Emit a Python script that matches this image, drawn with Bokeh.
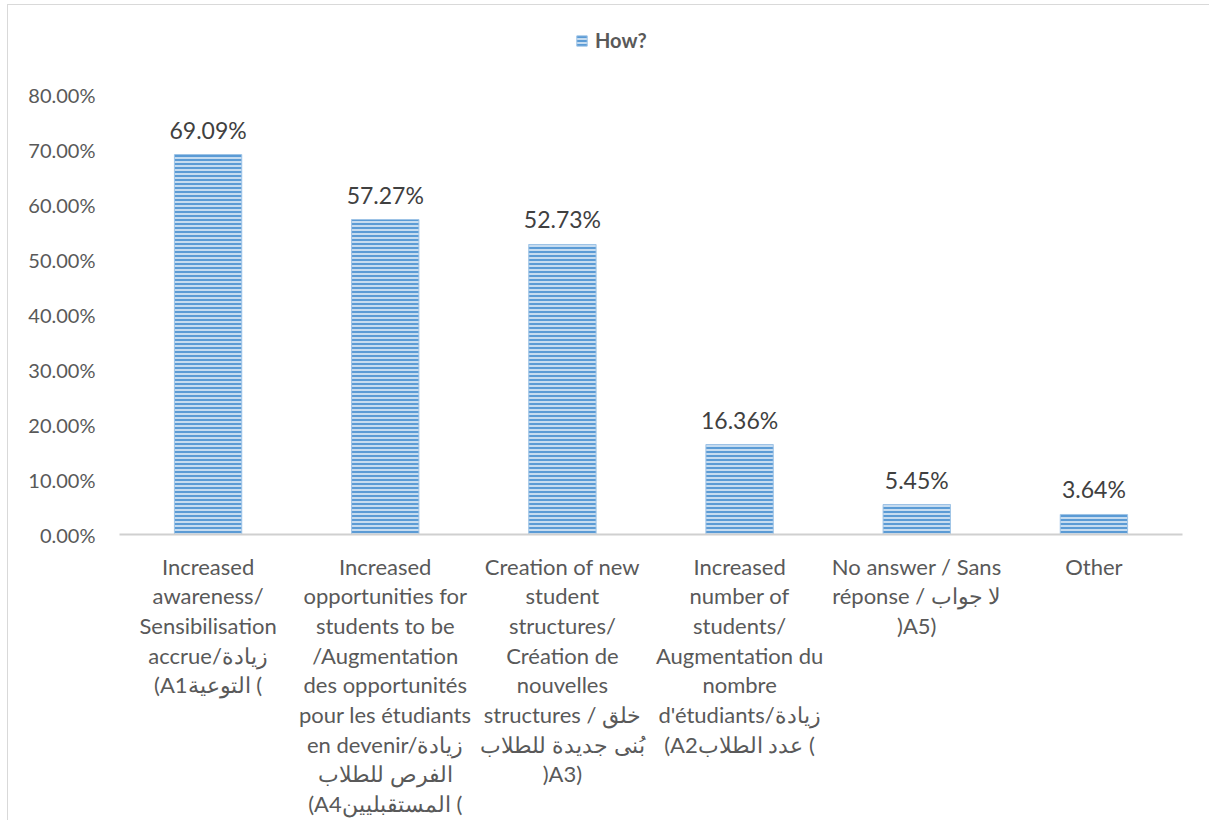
from bokeh.plotting import figure
from bokeh.models import (FactorRange, Range1d, PrintfTickFormatter, FixedTicker,
                          Legend, LegendItem, ColumnDataSource)
from bokeh.core.properties import value
from bokeh.embed import file_html
from bokeh.resources import INLINE

categories = [
    "Increased\nawareness/\nSensibilisation\naccrue/زيادة\n(A1التوعية (",
    "Increased\nopportunities for\nstudents to be\n/Augmentation\ndes opportunités\npour les étudiants\nen devenir/زيادة\nالفرص للطلاب\n(A4المستقبليين (",
    "Creation of new\nstudent\nstructures/\nCréation de\nnouvelles\nstructures / خلق\nبُنى جديدة للطلاب\n)A3)",
    "Increased\nnumber of\nstudents/\nAugmentation du\nnombre\nd'étudiants/زيادة\n(A2عدد الطلاب (",
    "No answer / Sans\nréponse / لا جواب\n)A5)",
    "Other",
]
values = [69.09, 57.27, 52.73, 16.36, 5.45, 3.64]
series_name = "How?"
y_ticks = [0, 10, 20, 30, 40, 50, 60, 70, 80]

FONT = "Lato"
GREY = "#595959"

src = ColumnDataSource(dict(cat=categories, val=values,
                            lab=[f"{v:.2f}%" for v in values]))

# frame spans 0..80 over 440px; extended upward so the legend sits inside it
p = figure(x_range=FactorRange(*categories), y_range=Range1d(0, 80 + 71 / 5.5),
           frame_width=1063, frame_height=511, output_backend="svg",
           toolbar_location=None,
           min_border_left=111, min_border_right=27, min_border_top=18,
           min_border_bottom=0)
p.styles = {"margin-left": "7px", "margin-top": "4px",
            "border-left": "1px solid #d9d9d9", "border-top": "1px solid #d9d9d9"}
p.outline_line_color = None
p.grid.grid_line_color = None

bars = p.vbar(x="cat", top="val", width=0.38, source=src,
              fill_color="#c6dcf0", line_color="#9dc3e6", line_width=1,
              hatch_pattern="horizontal_line", hatch_color="#5b9bd5",
              hatch_scale=4, hatch_weight=2)

p.text(x="cat", y="val", text="lab", source=src, text_align="center",
       text_baseline="alphabetic", y_offset=-25, text_font=value(FONT),
       text_font_size="23px", text_color="#404040")

# y axis
p.yaxis.ticker = FixedTicker(ticks=y_ticks)
p.yaxis.formatter = PrintfTickFormatter(format="%.2f%%")
p.yaxis.axis_line_color = None
p.yaxis.major_tick_line_color = None
p.yaxis.minor_tick_line_color = None
p.yaxis.major_label_standoff = 18
p.yaxis.major_label_text_font = FONT
p.yaxis.major_label_text_font_size = "20px"
p.yaxis.major_label_text_color = GREY

# x axis
p.xaxis.axis_line_color = "#d0d0d0"
p.xaxis.axis_line_width = 2
p.xaxis.major_tick_line_color = None
p.xaxis.minor_tick_line_color = None
p.xaxis.major_label_standoff = 12
p.xaxis.major_label_text_font = FONT
p.xaxis.major_label_text_font_size = "22px"
p.xaxis.major_label_text_line_height = 1.1
p.xaxis.major_label_text_color = GREY
p.xaxis.major_label_orientation = "horizontal"

legend = Legend(items=[LegendItem(label=series_name, renderers=[bars])],
                location=(456, 482), orientation="horizontal",
                border_line_color=None, background_fill_alpha=0,
                padding=0, margin=0, glyph_width=13, glyph_height=13,
                label_text_font=FONT, label_text_font_size="20px",
                label_text_font_style="bold", label_text_color=GREY,
                label_standoff=7)
p.add_layout(legend, "center")

open("out.html", "w").write(file_html(p, INLINE))
